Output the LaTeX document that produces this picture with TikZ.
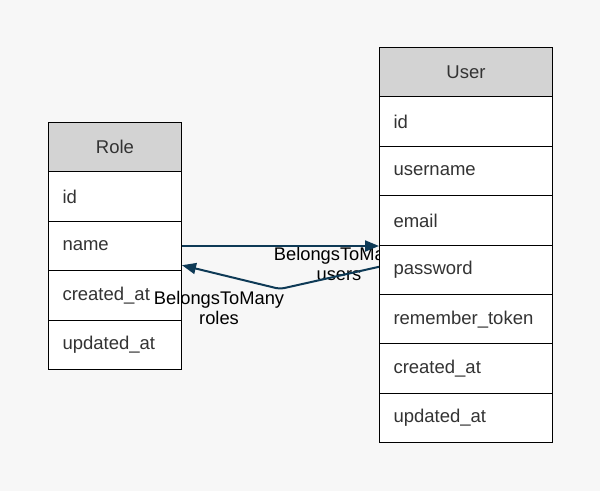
\documentclass[tikz,border=0pt]{standalone}
\usepackage{fontspec}
\setmainfont{Liberation Sans}
\usetikzlibrary{arrows.meta}
\definecolor{bg}{HTML}{F7F7F7}
\definecolor{hdr}{HTML}{D3D3D3}
\definecolor{edge}{HTML}{0E3A56}
\definecolor{txt}{HTML}{333333}
\tikzset{
  fieldbox/.style={draw=black, line width=1pt, fill=white, anchor=north west,
    inner xsep=14pt, inner ysep=0pt, align=left, text=txt,
    font=\fontsize{18.5}{21}\selectfont},
  headbox/.style={fieldbox, fill=hdr, align=center},
  rel/.style={draw=edge, line width=2pt, -{Triangle[length=14pt,width=11pt]}},
  lbl/.style={align=center, text=black, font=\fontsize{18.3}{20}\selectfont, inner sep=0pt}
}
\begin{document}
\begin{tikzpicture}[x=1pt,y=-1pt]
\fill[bg] (0,0) rectangle (600,491);
\useasboundingbox (0,0) rectangle (600,491);
% Role
\foreach \n/\t [count=\i from 0] in {rhead/Role,rid/id,rname/name,rcreated/created\_at,rupdated/updated\_at}{
  \ifnum\i=0
    \node[headbox, text width=105pt, minimum height=49.4pt] (\n) at (48,{122+49.4*\i}) {\t};
  \else
    \node[fieldbox, text width=105pt, minimum height=49.4pt] (\n) at (48,{122+49.4*\i}) {\t};
  \fi
}
% labels (drawn below the User table)
\node[lbl] (l1) at (339,264) {BelongsToMany\\users};
\node[lbl] (l2) at (219,308) {BelongsToMany\\roles};
% User
\foreach \n/\t [count=\i from 0] in {uhead/User,uid/id,uusername/username,uemail/email,upassword/password,uremember/remember\_token,ucreated/created\_at,uupdated/updated\_at}{
  \ifnum\i=0
    \node[headbox, text width=145pt, minimum height=49.4pt] (\n) at (379,{47+49.4*\i}) {\t};
  \else
    \node[fieldbox, text width=145pt, minimum height=49.4pt] (\n) at (379,{47+49.4*\i}) {\t};
  \fi
}
% relations
\draw[rel] (rname.east) -- (rname.east -| uemail.west);
\coordinate (bend) at (280,289);
\draw[rel, rounded corners=4pt] ([yshift=3pt]upassword.west) -- (bend) -- ([yshift=6pt]rname.south east);
\end{tikzpicture}
\end{document}
